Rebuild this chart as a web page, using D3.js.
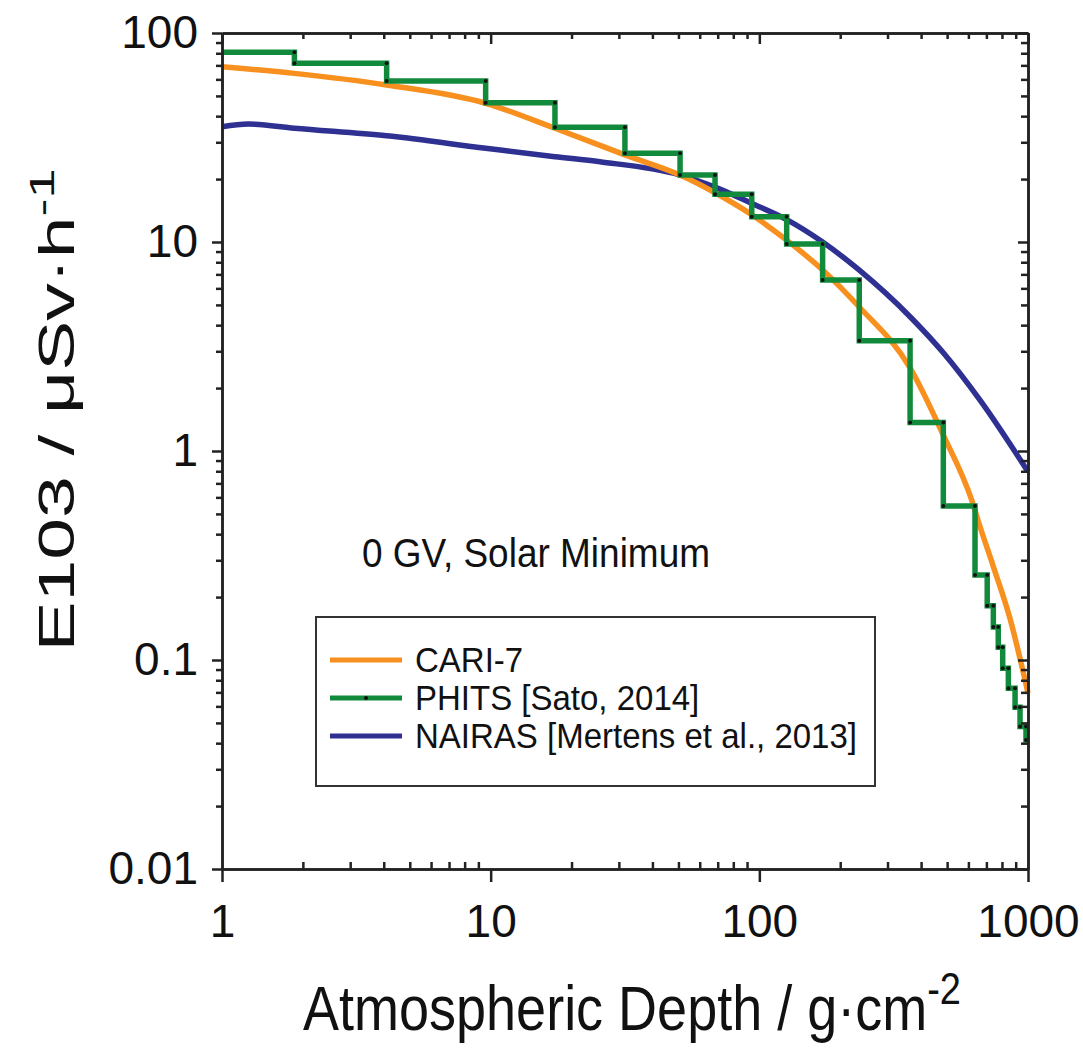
<!DOCTYPE html>
<html>
<head>
<meta charset="utf-8">
<script src="https://cdn.jsdelivr.net/npm/d3@7"></script>
<style>
  html, body { margin: 0; padding: 0; background: #fff; }
  svg { display: block; font-family: "Liberation Sans", Arial, sans-serif; }
</style>
</head>
<body>
<svg id="chart" width="1083" height="1053"></svg>
<script>
// ---------- DATA ----------
const xTickValues = [1, 10, 100, 1000];
const xTickLabels = ["1", "10", "100", "1000"];
const yTickValues = [0.01, 0.1, 1, 10, 100];
const yTickLabels = ["0.01", "0.1", "1", "10", "100"];

// CARI-7 (smooth curve)
const cariDepth = [1, 1.86, 4.1, 9.58, 17.35, 31.6, 50.7, 68.4, 93.7, 126.4, 172, 235, 364, 484, 617, 663, 743, 857, 1000];
const cariDose  = [69.0, 64.1, 56.4, 46.1, 35.0, 26.1, 20.9, 17.2, 13.5, 10.2, 7.35, 4.90, 2.5, 1.19, 0.583, 0.434, 0.28, 0.158, 0.0695];

// PHITS [Sato, 2014] (histogram steps)
const phitsEdges  = [1, 1.86, 4.10, 9.58, 17.35, 31.6, 50.7, 68.4, 93.7, 126.4, 172, 235.5, 364, 484, 635, 705, 743, 775, 805, 845, 895, 934, 983, 1000];
const phitsDose   = [80.9, 71.6, 58.9, 46.4, 35.4, 26.6, 20.9, 16.9, 13.2, 9.78, 6.58, 3.37, 1.37, 0.546, 0.255, 0.182, 0.144, 0.115, 0.0913, 0.0732, 0.0594, 0.048, 0.0414];

// NAIRAS [Mertens et al., 2013]
const nairasDepth = [1, 1.25, 1.86, 4.1, 9.58, 17.35, 25.5, 50.7, 68.4, 93.7, 126.4, 172, 235, 364, 484, 663, 1000];
const nairasDose  = [35.6, 36.7, 35.0, 32.2, 28.1, 25.6, 24.2, 20.9, 18.3, 15.3, 12.8, 10.0, 7.35, 4.39, 2.95, 1.75, 0.796];

const seriesNames = ["CARI-7", "PHITS [Sato, 2014]", "NAIRAS [Mertens et al., 2013]"];
const seriesColors = ["#f7901e", "#128a3c", "#2e3192"];

// ---------- LAYOUT ----------
const svg = d3.select("#chart");
const L = 222, R = 1028, T = 33, B = 869;
const x = d3.scaleLog().domain([1, 1000]).range([L, R]);
const y = d3.scaleLog().domain([0.01, 100]).range([B, T]);
const axisColor = "#222";

svg.append("rect").attr("width", 1083).attr("height", 1053).attr("fill", "#fff");

function minors(lo, hi) {
  const out = [];
  for (let d = lo; d < hi; d *= 10)
    for (let k = 2; k <= 9; k++) out.push(d * k);
  return out;
}
const xMinor = minors(1, 1000);
const yMinor = minors(0.01, 100);

const g = svg.append("g");

// ---------- DATA LINES ----------
const smooth = d3.line().x(d => x(d[0])).y(d => y(d[1])).curve(d3.curveMonotoneX);

g.append("path")
  .datum(nairasDepth.map((d, i) => [d, nairasDose[i]]))
  .attr("d", smooth)
  .attr("fill", "none").attr("stroke", seriesColors[2]).attr("stroke-width", 5.5);

g.append("path")
  .datum(cariDepth.map((d, i) => [d, cariDose[i]]))
  .attr("d", smooth)
  .attr("fill", "none").attr("stroke", seriesColors[0]).attr("stroke-width", 5.5);

const stepPts = [];
phitsDose.forEach((v, i) => {
  stepPts.push([phitsEdges[i], v]);
  stepPts.push([phitsEdges[i + 1], v]);
});
g.append("path")
  .datum(stepPts)
  .attr("d", d3.line().x(d => x(d[0])).y(d => y(d[1])))
  .attr("fill", "none").attr("stroke", seriesColors[1]).attr("stroke-width", 5.5)
  .attr("stroke-linejoin", "miter");

const dots = [];
for (let i = 1; i < phitsEdges.length - 1; i++) {
  dots.push([phitsEdges[i], phitsDose[i - 1]]);
  dots.push([phitsEdges[i], phitsDose[i]]);
}
g.selectAll("circle.pd").data(dots).enter().append("circle")
  .attr("cx", d => x(d[0])).attr("cy", d => y(d[1])).attr("r", 2)
  .attr("fill", "#111");

// ---------- AXES ----------
function styleAxis(sel) {
  sel.select(".domain").attr("stroke", axisColor).attr("stroke-width", 2.5);
  sel.selectAll(".tick line").attr("stroke", axisColor).attr("stroke-width", 2.5);
}
svg.append("g").attr("transform", `translate(0,${B})`)
  .call(d3.axisBottom(x).tickValues(xTickValues).tickSizeInner(13).tickSizeOuter(0)
    .tickFormat((d, i) => xTickLabels[i]).tickPadding(22))
  .call(styleAxis)
  .call(s => s.selectAll("text").attr("font-size", 46).attr("fill", "#111")
    .attr("font-family", "Liberation Sans, Arial, sans-serif"));
svg.append("g").attr("transform", `translate(0,${B})`)
  .call(d3.axisBottom(x).tickValues(xMinor).tickSizeInner(-7).tickSizeOuter(0).tickFormat(""))
  .call(styleAxis);
svg.append("g").attr("transform", `translate(0,${T})`)
  .call(d3.axisTop(x).tickValues(xTickValues).tickSizeInner(-11).tickSizeOuter(0).tickFormat(""))
  .call(styleAxis);
svg.append("g").attr("transform", `translate(0,${T})`)
  .call(d3.axisTop(x).tickValues(xMinor).tickSizeInner(-6).tickSizeOuter(0).tickFormat(""))
  .call(styleAxis);
svg.append("g").attr("transform", `translate(${L},0)`)
  .call(d3.axisLeft(y).tickValues(yTickValues).tickSizeInner(10).tickSizeOuter(0)
    .tickFormat((d, i) => yTickLabels[i]).tickPadding(14))
  .call(styleAxis)
  .call(s => s.selectAll("text").attr("font-size", 46).attr("fill", "#111")
    .attr("font-family", "Liberation Sans, Arial, sans-serif"));
svg.append("g").attr("transform", `translate(${L},0)`)
  .call(d3.axisLeft(y).tickValues(yMinor).tickSizeInner(6).tickSizeOuter(0).tickFormat(""))
  .call(styleAxis);
svg.append("g").attr("transform", `translate(${R},0)`)
  .call(d3.axisRight(y).tickValues(yTickValues).tickSizeInner(-10).tickSizeOuter(0).tickFormat(""))
  .call(styleAxis);
svg.append("g").attr("transform", `translate(${R},0)`)
  .call(d3.axisRight(y).tickValues(yMinor).tickSizeInner(-7).tickSizeOuter(0).tickFormat(""))
  .call(styleAxis);

// ---------- AXIS TITLES ----------
const xt = svg.append("text").attr("transform", "translate(632,1030) scale(1,1.18)")
  .attr("text-anchor", "middle").attr("font-size", 54).attr("fill", "#111");
xt.append("tspan").text("Atmospheric Depth / g·cm");
xt.append("tspan").attr("font-size", 38).attr("dy", -22).text("-2");

const yt = svg.append("text")
  .attr("transform", "translate(74,410) rotate(-90) scale(1.5,1)")
  .attr("text-anchor", "middle").attr("font-size", 50).attr("fill", "#111");
yt.append("tspan").text("E103 / μSv·h");
yt.append("tspan").attr("font-size", 36).attr("dy", -20).text("-1");

// ---------- ANNOTATION ----------
svg.append("text").attr("transform", "translate(362,567) scale(1,1.1)")
  .attr("font-size", 37).attr("fill", "#111").text("0 GV, Solar Minimum");

// ---------- LEGEND ----------
const lg = svg.append("g");
lg.append("rect").attr("x", 316).attr("y", 617).attr("width", 559).attr("height", 169)
  .attr("fill", "#fff").attr("stroke", "#333").attr("stroke-width", 2);
const rowY = [660, 698, 736];
seriesNames.forEach((name, i) => {
  lg.append("line").attr("x1", 330).attr("x2", 402).attr("y1", rowY[i]).attr("y2", rowY[i])
    .attr("stroke", seriesColors[i]).attr("stroke-width", 5);
  lg.append("text").attr("transform", `translate(415,${rowY[i] + 12}) scale(1,1.05)`)
    .attr("font-size", 33).attr("fill", "#111").text(name);
});
lg.append("circle").attr("cx", 366).attr("cy", rowY[1]).attr("r", 2).attr("fill", "#111");
</script>
</body>
</html>
